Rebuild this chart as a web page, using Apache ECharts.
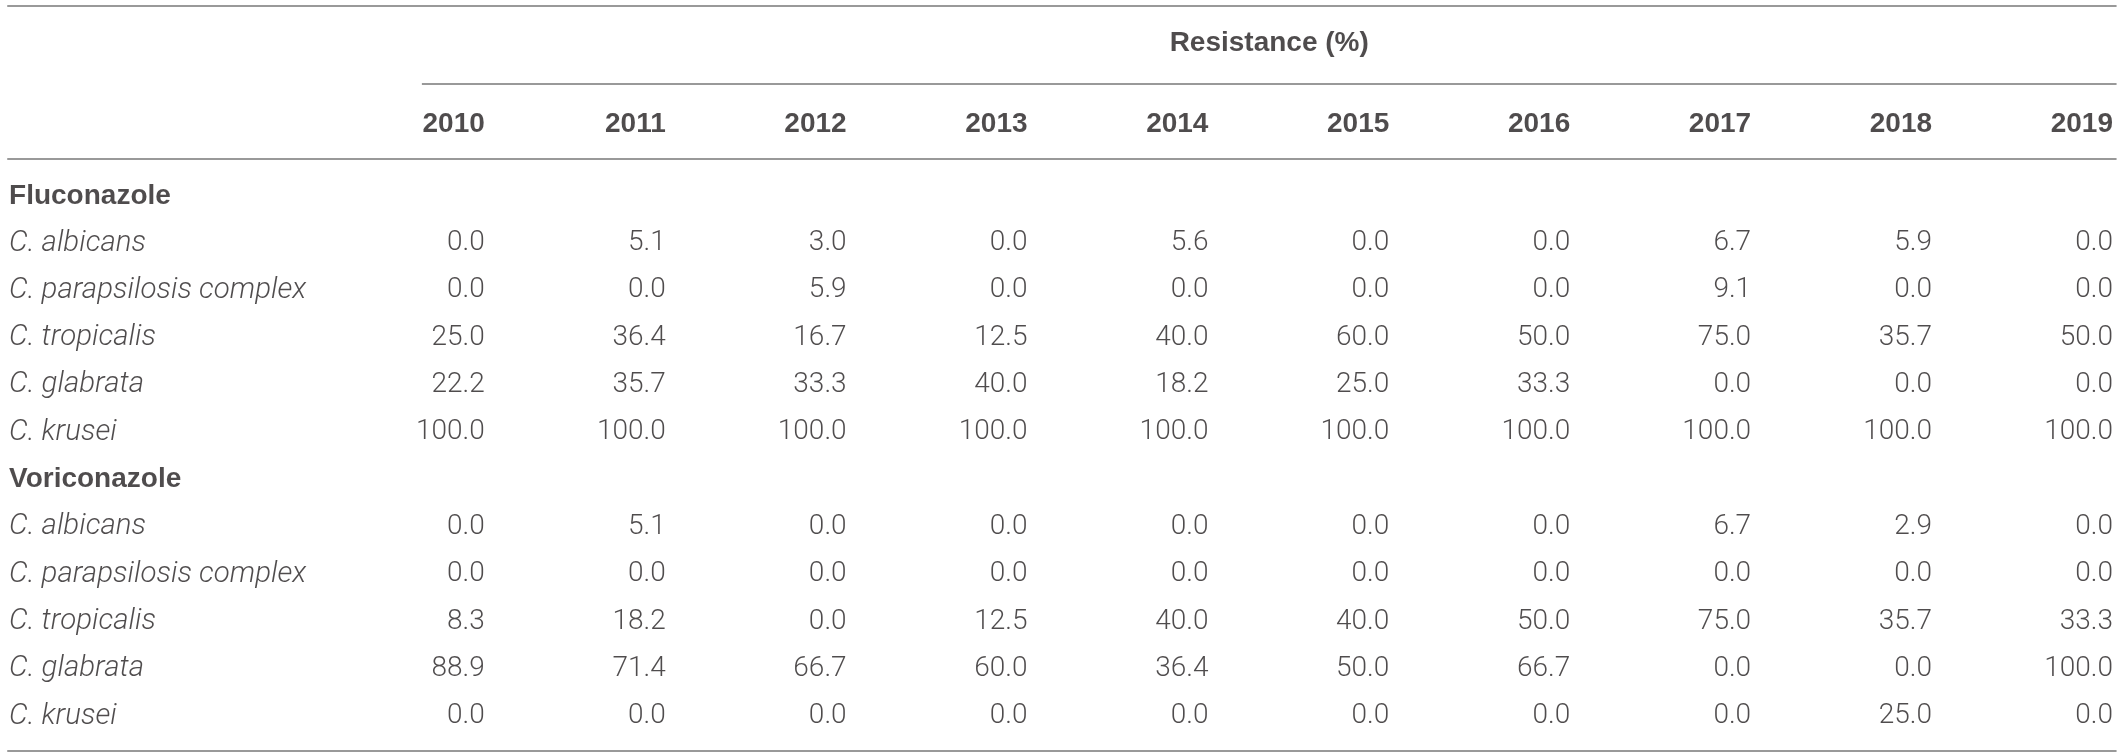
<!DOCTYPE html>
<html>
<head>
<meta charset="utf-8">
<script src="https://cdn.jsdelivr.net/npm/echarts@6/dist/echarts.min.js"></script>
<style>
  html, body { margin: 0; padding: 0; background: #fff; }
  #main { width: 2122px; height: 756px; }
</style>
</head>
<body>
<div id="main"></div>
<script>
// table data
var TITLE = 'Resistance (%)';
var YEARS = ['2010', '2011', '2012', '2013', '2014', '2015', '2016', '2017', '2018', '2019'];
var DRUGS = ['Fluconazole', 'Voriconazole'];
var SPECIES = ['C. albicans', 'C. parapsilosis complex', 'C. tropicalis', 'C. glabrata', 'C. krusei'];

var FLUCONAZOLE = [
  [0.0, 5.1, 3.0, 0.0, 5.6, 0.0, 0.0, 6.7, 5.9, 0.0],
  [0.0, 0.0, 5.9, 0.0, 0.0, 0.0, 0.0, 9.1, 0.0, 0.0],
  [25.0, 36.4, 16.7, 12.5, 40.0, 60.0, 50.0, 75.0, 35.7, 50.0],
  [22.2, 35.7, 33.3, 40.0, 18.2, 25.0, 33.3, 0.0, 0.0, 0.0],
  [100.0, 100.0, 100.0, 100.0, 100.0, 100.0, 100.0, 100.0, 100.0, 100.0]
];
var VORICONAZOLE = [
  [0.0, 5.1, 0.0, 0.0, 0.0, 0.0, 0.0, 6.7, 2.9, 0.0],
  [0.0, 0.0, 0.0, 0.0, 0.0, 0.0, 0.0, 0.0, 0.0, 0.0],
  [8.3, 18.2, 0.0, 12.5, 40.0, 40.0, 50.0, 75.0, 35.7, 33.3],
  [88.9, 71.4, 66.7, 60.0, 36.4, 50.0, 66.7, 0.0, 0.0, 100.0],
  [0.0, 0.0, 0.0, 0.0, 0.0, 0.0, 0.0, 0.0, 25.0, 0.0]
];
var VALUES = [FLUCONAZOLE, VORICONAZOLE];

// layout (axis units: x = column, y = row)
var LABEL_COL = -1.63;     // left-aligned stub column
var X_MIN = -1.68, X_MAX = 10.05;
var Y_MIN = -4.14, Y_MAX = 11.84;
var ROW_TITLE = -3.23, ROW_YEARS = -1.52;
var RULE_TOP = -4.01, RULE_TITLE = -2.38, RULE_HEAD = -0.78, RULE_BOTTOM = 11.73;
var RULE_LEFT = -1.64, RULE_RIGHT = 10.02, RULE_TITLE_LEFT = 0.652;

var INK = '#231f20';
var LIGHT = 'Roboto, "Liberation Sans", sans-serif';
var BOLD = '"Liberation Sans", Arial, sans-serif';

var stubBold = [], stubItalic = [], cells = [], years = [];
var row = 0;
DRUGS.forEach(function (drug, d) {
  stubBold.push({ value: [LABEL_COL, row], name: drug });
  row++;
  SPECIES.forEach(function (sp, s) {
    stubItalic.push({ value: [LABEL_COL, row], name: sp });
    VALUES[d][s].forEach(function (v, j) {
      cells.push({ value: [j + 1, row], name: v.toFixed(1) });
    });
    row++;
  });
});
YEARS.forEach(function (y, j) {
  years.push({ value: [j + 1, ROW_YEARS], name: y });
});

function textSeries(data, pos, font, size, weight, style) {
  return {
    type: 'scatter',
    data: data,
    symbolSize: 0,
    clip: false,
    silent: true,
    label: {
      show: true,
      position: pos,
      distance: 0,
      formatter: '{b}',
      color: INK,
      fontFamily: font,
      fontSize: size,
      fontWeight: weight,
      fontStyle: style || 'normal'
    }
  };
}

function rule(y, x0, x1) {
  return [{ coord: [x0, y] }, { coord: [x1, y] }];
}

var myChart = echarts.init(document.getElementById('main'), null, { renderer: 'canvas' });

var rules = textSeries([{ value: [(RULE_TITLE_LEFT + RULE_RIGHT) / 2, ROW_TITLE], name: TITLE }], 'inside', BOLD, 28, 'bold');
rules.markLine = {
  silent: true,
  symbol: 'none',
  label: { show: false },
  lineStyle: { color: '#777777', width: 1.6, type: 'solid' },
  data: [
    rule(RULE_TOP, RULE_LEFT, RULE_RIGHT),
    rule(RULE_TITLE, RULE_TITLE_LEFT, RULE_RIGHT),
    rule(RULE_HEAD, RULE_LEFT, RULE_RIGHT),
    rule(RULE_BOTTOM, RULE_LEFT, RULE_RIGHT)
  ]
};

var option = {
  animation: false,
  backgroundColor: '#ffffff',
  grid: { left: 0, right: 0, top: 0, bottom: 0 },
  xAxis: { type: 'value', min: X_MIN, max: X_MAX, show: false },
  yAxis: { type: 'value', min: Y_MIN, max: Y_MAX, inverse: true, show: false },
  series: [
    rules,
    textSeries(years, 'left', BOLD, 28, 'bold'),
    textSeries(stubBold, 'right', BOLD, 28, 'bold'),
    textSeries(stubItalic, 'right', LIGHT, 29.5, 300, 'italic'),
    textSeries(cells, 'left', LIGHT, 28, 300)
  ]
};

myChart.setOption(option);
</script>
</body>
</html>
